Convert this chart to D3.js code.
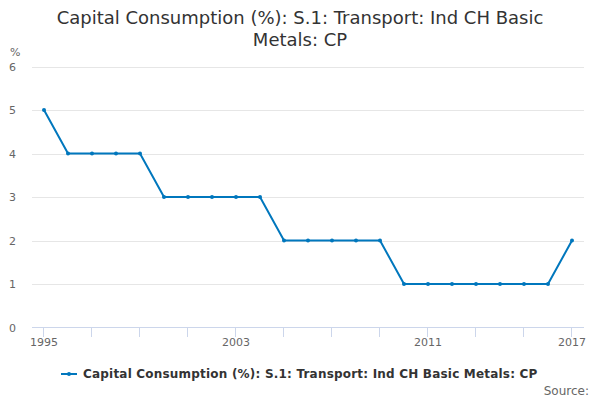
<!DOCTYPE html>
<html>
<head>
<meta charset="utf-8">
<script src="https://cdn.jsdelivr.net/npm/d3@7"></script>
<style>
  body { margin: 0; background: #fff; }
  svg { font-family: "DejaVu Sans", sans-serif; }
</style>
</head>
<body>
<svg id="chart"></svg>
<script>
"use strict";

const width = 600;
const height = 400;

const years = [1995, 1996, 1997, 1998, 1999, 2000, 2001, 2002, 2003, 2004, 2005,
    2006, 2007, 2008, 2009, 2010, 2011, 2012, 2013, 2014, 2015, 2016, 2017];
const values = [5, 4, 4, 4, 4, 3, 3, 3, 3, 3, 2, 2, 2, 2, 2, 1, 1, 1, 1, 1, 1, 1, 2];
const y_ticks = [0, 1, 2, 3, 4, 5, 6];
const x_labels = [1995, 2003, 2011, 2017];
const x_ticks = [1995, 1997, 1999, 2001, 2003, 2005, 2007, 2009, 2011, 2013, 2015, 2017];

const title_lines = ["Capital Consumption (%): S.1: Transport: Ind CH Basic", "Metals: CP"];
const series_name = "Capital Consumption (%): S.1: Transport: Ind CH Basic Metals: CP";

const line_color = "#0077bd";

const svg = d3.select("#chart")
    .attr("width", width)
    .attr("height", height);

svg.append("rect").attr("width", width).attr("height", height).attr("fill", "#fff");

const x = d3.scaleLinear()
    .domain([years[0] - 0.5, years[years.length - 1] + 0.5])
    .range([32, 584]);

const y = d3.scaleLinear()
    .domain([0, 6])
    .range([327.5, 66.5]);

// title
svg.append("g")
    .selectAll("text")
    .data(title_lines)
    .enter()
    .append("text")
    .attr("x", width / 2)
    .attr("y", (d, i) => 24 + i * 22)
    .attr("text-anchor", "middle")
    .style("font-size", "18px")
    .style("fill", "#333333")
    .text(d => d);

// grid
svg.append("g")
    .selectAll("line")
    .data(y_ticks.filter(d => d > 0))
    .enter()
    .append("line")
    .attr("x1", 32)
    .attr("x2", 584)
    .attr("y1", d => Math.round(y(d)) + 0.5)
    .attr("y2", d => Math.round(y(d)) + 0.5)
    .attr("stroke", "#e6e6e6")
    .attr("stroke-width", 1);

// y labels
svg.append("g")
    .selectAll("text")
    .data(y_ticks)
    .enter()
    .append("text")
    .attr("x", 16)
    .attr("y", d => y(d) + 4)
    .attr("text-anchor", "end")
    .style("font-size", "11px")
    .style("fill", "#666666")
    .text(d => d);

svg.append("text")
    .attr("x", 10)
    .attr("y", 56)
    .style("font-size", "11px")
    .style("fill", "#666666")
    .text("%");

// x axis
svg.append("line")
    .attr("x1", 32)
    .attr("x2", 584)
    .attr("y1", 327.5)
    .attr("y2", 327.5)
    .attr("stroke", "#ccd6eb");

svg.append("g")
    .selectAll("line")
    .data(x_ticks)
    .enter()
    .append("line")
    .attr("x1", d => Math.round(x(d)) - 0.5)
    .attr("x2", d => Math.round(x(d)) - 0.5)
    .attr("y1", 327.5)
    .attr("y2", 337)
    .attr("stroke", "#ccd6eb");

svg.append("g")
    .selectAll("text")
    .data(x_labels)
    .enter()
    .append("text")
    .attr("x", d => x(d))
    .attr("y", 346)
    .attr("text-anchor", "middle")
    .style("font-size", "11px")
    .style("fill", "#666666")
    .text(d => d);

// line
const points = years.map((d, i) => ({ year: d, value: values[i] }));

svg.append("path")
    .datum(points)
    .attr("fill", "none")
    .attr("stroke", line_color)
    .attr("stroke-width", 2)
    .attr("d", d3.line().x(d => x(d.year)).y(d => y(d.value)));

svg.append("g")
    .selectAll("circle")
    .data(points)
    .enter()
    .append("circle")
    .attr("cx", d => x(d.year))
    .attr("cy", d => y(d.value))
    .attr("r", 2)
    .attr("fill", line_color);

// legend
const legend = svg.append("g");
legend.append("line")
    .attr("x1", 61)
    .attr("x2", 77)
    .attr("y1", 374)
    .attr("y2", 374)
    .attr("stroke", line_color)
    .attr("stroke-width", 2);
legend.append("circle")
    .attr("cx", 69)
    .attr("cy", 374)
    .attr("r", 2)
    .attr("fill", line_color);
legend.append("text")
    .attr("x", 83)
    .attr("y", 378)
    .style("font-size", "12px")
    .style("font-weight", "bold")
    .style("letter-spacing", "0.2px")
    .style("fill", "#333333")
    .text(series_name);

svg.append("text")
    .attr("x", 589)
    .attr("y", 395)
    .attr("text-anchor", "end")
    .style("font-size", "12px")
    .style("fill", "#666666")
    .text("Source:");
</script>
</body>
</html>
